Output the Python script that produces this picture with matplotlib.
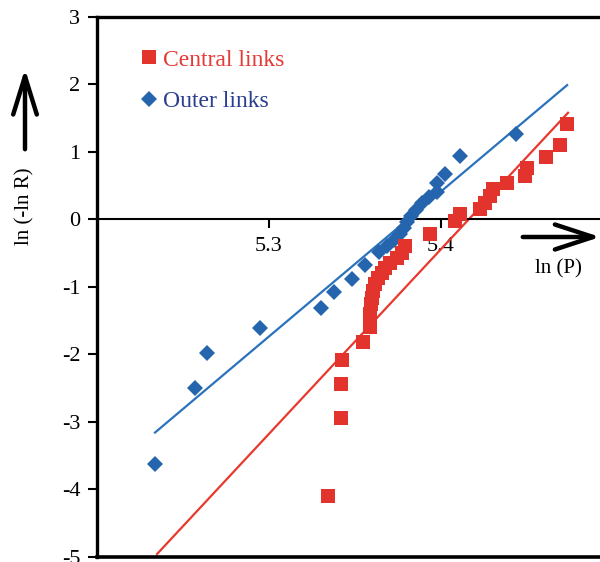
import matplotlib.pyplot as plt
from matplotlib.patches import FancyArrowPatch
import numpy as np

plt.rcParams['font.family'] = ['Liberation Serif', 'DejaVu Serif']
plt.rcParams['axes.unicode_minus'] = False

# ----- data -----
outer_x = [5.2337, 5.2570, 5.2640, 5.2948, 5.3302, 5.3378, 5.3483, 5.3558,
           5.3640, 5.3686, 5.3727, 5.3762, 5.3785, 5.3802, 5.3826, 5.3855,
           5.3890, 5.3930, 5.3977, 5.3977, 5.4023, 5.4110, 5.4436]
outer_y = [-3.62, -2.50, -1.98, -1.61, -1.31, -1.07, -0.88, -0.67,
           -0.48, -0.39, -0.30, -0.22, -0.13, -0.04, 0.05, 0.14,
           0.24, 0.33, 0.41, 0.54, 0.67, 0.94, 1.27]

central_x = [5.3343, 5.3419, 5.3419, 5.3424, 5.3547, 5.3587, 5.3587, 5.3593,
             5.3599, 5.3605, 5.3616, 5.3634, 5.3657, 5.3674, 5.3703, 5.3744,
             5.3773, 5.3791, 5.3936, 5.4081, 5.4110, 5.4227, 5.4256, 5.4285,
             5.4302, 5.4384, 5.4488, 5.4500, 5.4610, 5.4692, 5.4733]
central_y = [-4.10, -2.94, -2.44, -2.08, -1.82, -1.59, -1.40, -1.25,
             -1.16, -1.06, -0.96, -0.87, -0.79, -0.72, -0.64, -0.57,
             -0.50, -0.39, -0.22, -0.02, 0.08, 0.16, 0.24, 0.35,
             0.45, 0.54, 0.64, 0.76, 0.93, 1.10, 1.42]

# fitted lines (end points)
outer_fit_x = [5.2337, 5.4733]
outer_fit_y = [-3.16, 1.99]
central_fit_x = [5.2349, 5.4738]
central_fit_y = [-4.96, 1.58]

y_ticks = [-5, -4, -3, -2, -1, 0, 1, 2, 3]
x_ticks = [5.3, 5.4]

red = '#e2332c'
blue = '#2565ae'

fig = plt.figure(figsize=(6, 5.62), dpi=100)
ax = fig.add_axes([0.1617, 0.0094, 0.8383, 0.9604])

ax.plot(outer_fit_x, outer_fit_y, color='#2a72bb', lw=1.6, zorder=2)
ax.plot(central_fit_x, central_fit_y, color='#e8392f', lw=1.6, zorder=2)
ax.plot(central_x, central_y, 's', color=red, ms=9.5, mew=0,
        label='Central links', zorder=4)
ax.plot(outer_x, outer_y, 'D', color=blue, ms=8, mew=0,
        label='Outer links', zorder=3)

ax.set_xlim(5.2, 5.4924)
ax.set_ylim(-5, 3)

#-----frame and axis-----
ax.spines['right'].set_visible(False)
ax.spines['left'].set_linewidth(2.4)
ax.spines['top'].set_linewidth(2.4)
ax.spines['bottom'].set_position(('data', 0))
ax.spines['bottom'].set_linewidth(1.5)
ax.axhline(-5, color='black', lw=2.6, clip_on=False, zorder=5)

ax.set_yticks(y_ticks)
ax.set_xticks(x_ticks)
ax.set_xticklabels(['5.3', '5.4'])
ax.tick_params(axis='y', direction='out', length=6.5, width=1.5, pad=5.5,
               labelsize=16)
ax.tick_params(axis='x', direction='out', length=6.5, width=1.5, pad=6,
               labelsize=16)

leg = ax.legend(loc='upper left', bbox_to_anchor=(0.07, 0.958), frameon=False,
                fontsize=17, handlelength=0.6, handletextpad=0.3,
                labelspacing=0.85, borderaxespad=0,
                labelcolor=['#e53a35', '#2a3d8c'])

#-----arrows and axis titles-----
fig.text(25 / 600, 1 - 206 / 562, 'ln (-ln R)', rotation=90, ha='center',
         va='center', fontsize=15)
fig.text(558 / 600, 1 - 269 / 562, 'ln (P)', ha='center', va='center',
         fontsize=15)
fig.patches.append(FancyArrowPatch(
    (25 / 600, 1 - 152 / 562), (25 / 600, 1 - 66 / 562),
    transform=fig.transFigure, arrowstyle='->,head_length=5.5,head_width=1.7',
    lw=3.2, color='black', mutation_scale=5))
fig.patches.append(FancyArrowPatch(
    (520 / 600, 1 - 237 / 562), (603 / 600, 1 - 237 / 562),
    transform=fig.transFigure, arrowstyle='->,head_length=5.5,head_width=1.8',
    lw=3.2, color='black', mutation_scale=5))

fig.savefig('out.png', dpi=100)
